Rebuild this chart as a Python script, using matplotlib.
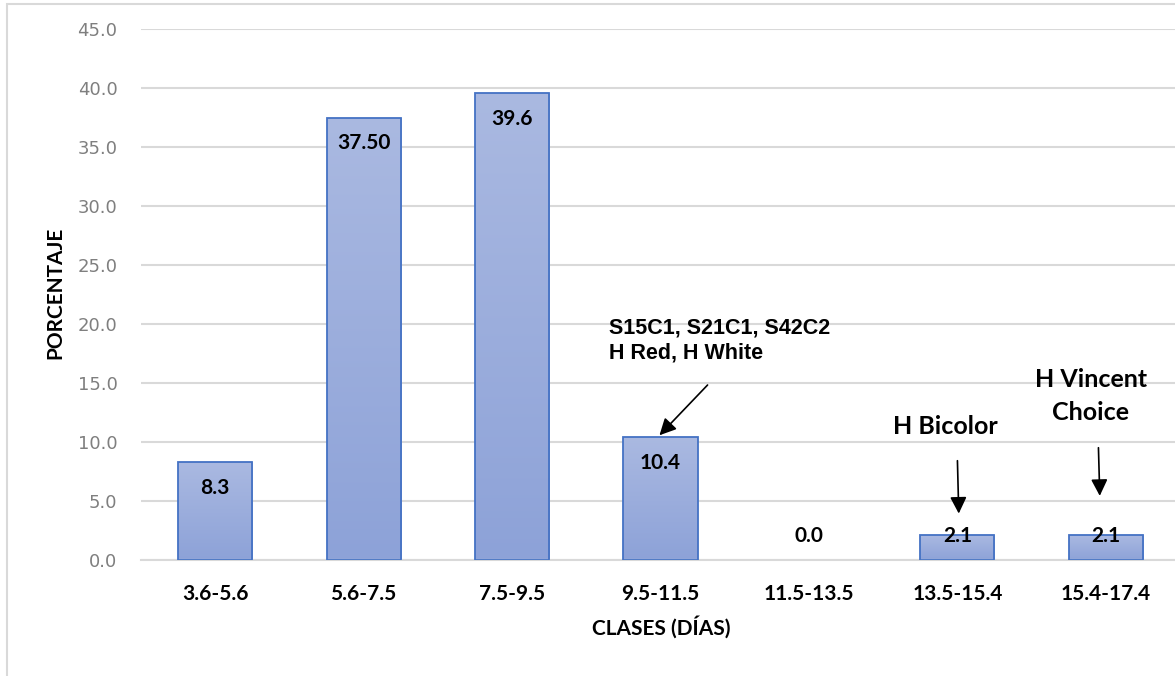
import numpy as np
import matplotlib
matplotlib.use('Agg')
import matplotlib.pyplot as plt
from matplotlib.colors import LinearSegmentedColormap
from matplotlib.patches import Rectangle

# data
clases = ['3.6-5.6', '5.6-7.5', '7.5-9.5', '9.5-11.5', '11.5-13.5', '13.5-15.4', '15.4-17.4']
porcentaje = [8.3, 37.5, 39.6, 10.4, 0.0, 2.1, 2.1]
etiquetas = ['8.3', '37.50', '39.6', '10.4', '0.0', '2.1', '2.1']
yticks = [0, 5, 10, 15, 20, 25, 30, 35, 40, 45]

W, H = 1175, 676
fig = plt.figure(figsize=(W / 100, H / 100), dpi=100)
ax = fig.add_axes([141 / W, 1 - 560 / H, 1039 / W, 531 / H])

x = np.arange(len(clases))
bars = ax.bar(x, porcentaje, width=0.5, color='none', edgecolor='#4472c4',
              linewidth=1.3, zorder=3)

# vertical gradient fill for each bar
cmap = LinearSegmentedColormap.from_list('g', ['#8da2d8', '#aab9e1'])
grad = np.linspace(0, 1, 256).reshape(-1, 1)
for b in bars:
    if b.get_height() <= 0:
        b.set_visible(False)
        continue
    x0 = b.get_x()
    im = ax.imshow(grad, extent=[x0, x0 + b.get_width(), 0, b.get_height()],
                   origin='lower', cmap=cmap, aspect='auto', zorder=2)
    im.set_clip_path(b)

ax.set_xlim(-0.5, len(clases) - 0.5)
ax.set_ylim(0, 45)
ax.set_yticks(yticks)
ax.set_yticklabels([f'{v:.1f}' for v in yticks], family='DejaVu Sans',
                   fontsize=13, color='#7f7f7f')
ax.set_xticks(x)
ax.set_xticklabels(clases, family='Lato', fontweight='bold', fontsize=15)
ax.tick_params(axis='both', length=0)
ax.tick_params(axis='y', pad=17)
ax.tick_params(axis='x', pad=17)

ax.grid(axis='y', color='#d9d9d9', linewidth=1.5, zorder=0)
ax.set_axisbelow(True)
for s in ['top', 'right', 'left']:
    ax.spines[s].set_visible(False)
ax.spines['bottom'].set_color('#d9d9d9')
ax.spines['bottom'].set_linewidth(1.5)

# value labels inside the top of each bar
for xi, v, t in zip(x, porcentaje, etiquetas):
    ax.text(xi, max(v - 2.2, 2.05), t, ha='center', va='center',
            family='Lato', fontweight='bold', fontsize=15, zorder=5)

# annotations
ax.annotate('', xy=(2.98, 10.4), xytext=(3.33, 15.0),
            arrowprops=dict(arrowstyle='-|>', color='black', lw=1.2,
                            mutation_scale=25), zorder=6)
ax.text(2.65, 18.6, 'S15C1, S21C1, S42C2\nH Red, H White', ha='left',
        va='center', family='Liberation Sans', fontweight='bold',
        fontsize=15.5, linespacing=1.2)

ax.annotate('', xy=(5.01, 3.7), xytext=(5.0, 8.65),
            arrowprops=dict(arrowstyle='-|>', color='black', lw=1.2,
                            mutation_scale=25), zorder=6)
ax.text(4.92, 11.3, 'H Bicolor', ha='center', va='center', family='Lato',
        fontweight='bold', fontsize=18)

ax.annotate('', xy=(5.96, 5.2), xytext=(5.95, 9.75),
            arrowprops=dict(arrowstyle='-|>', color='black', lw=1.2,
                            mutation_scale=25), zorder=6)
ax.text(5.9, 13.9, 'H Vincent\nChoice', ha='center', va='center',
        family='Lato', fontweight='bold', fontsize=18, linespacing=1.55)

fig.text(661 / W, 1 - 627 / H, 'CLASES (DÍAS)', ha='center', va='center',
         family='Lato', fontweight='bold', fontsize=15)
fig.text(55 / W, 1 - 293 / H, 'PORCENTAJE', ha='center', va='center',
         rotation=90, family='Lato', fontweight='bold', fontsize=15)

# chart area border
fig.patches.append(Rectangle((7 / W, -0.1), 1.2, 1 - 4 / H + 0.1,
                             transform=fig.transFigure, fill=False,
                             edgecolor='#d9d9d9', linewidth=1.5))

fig.savefig('out.png', dpi=100)
